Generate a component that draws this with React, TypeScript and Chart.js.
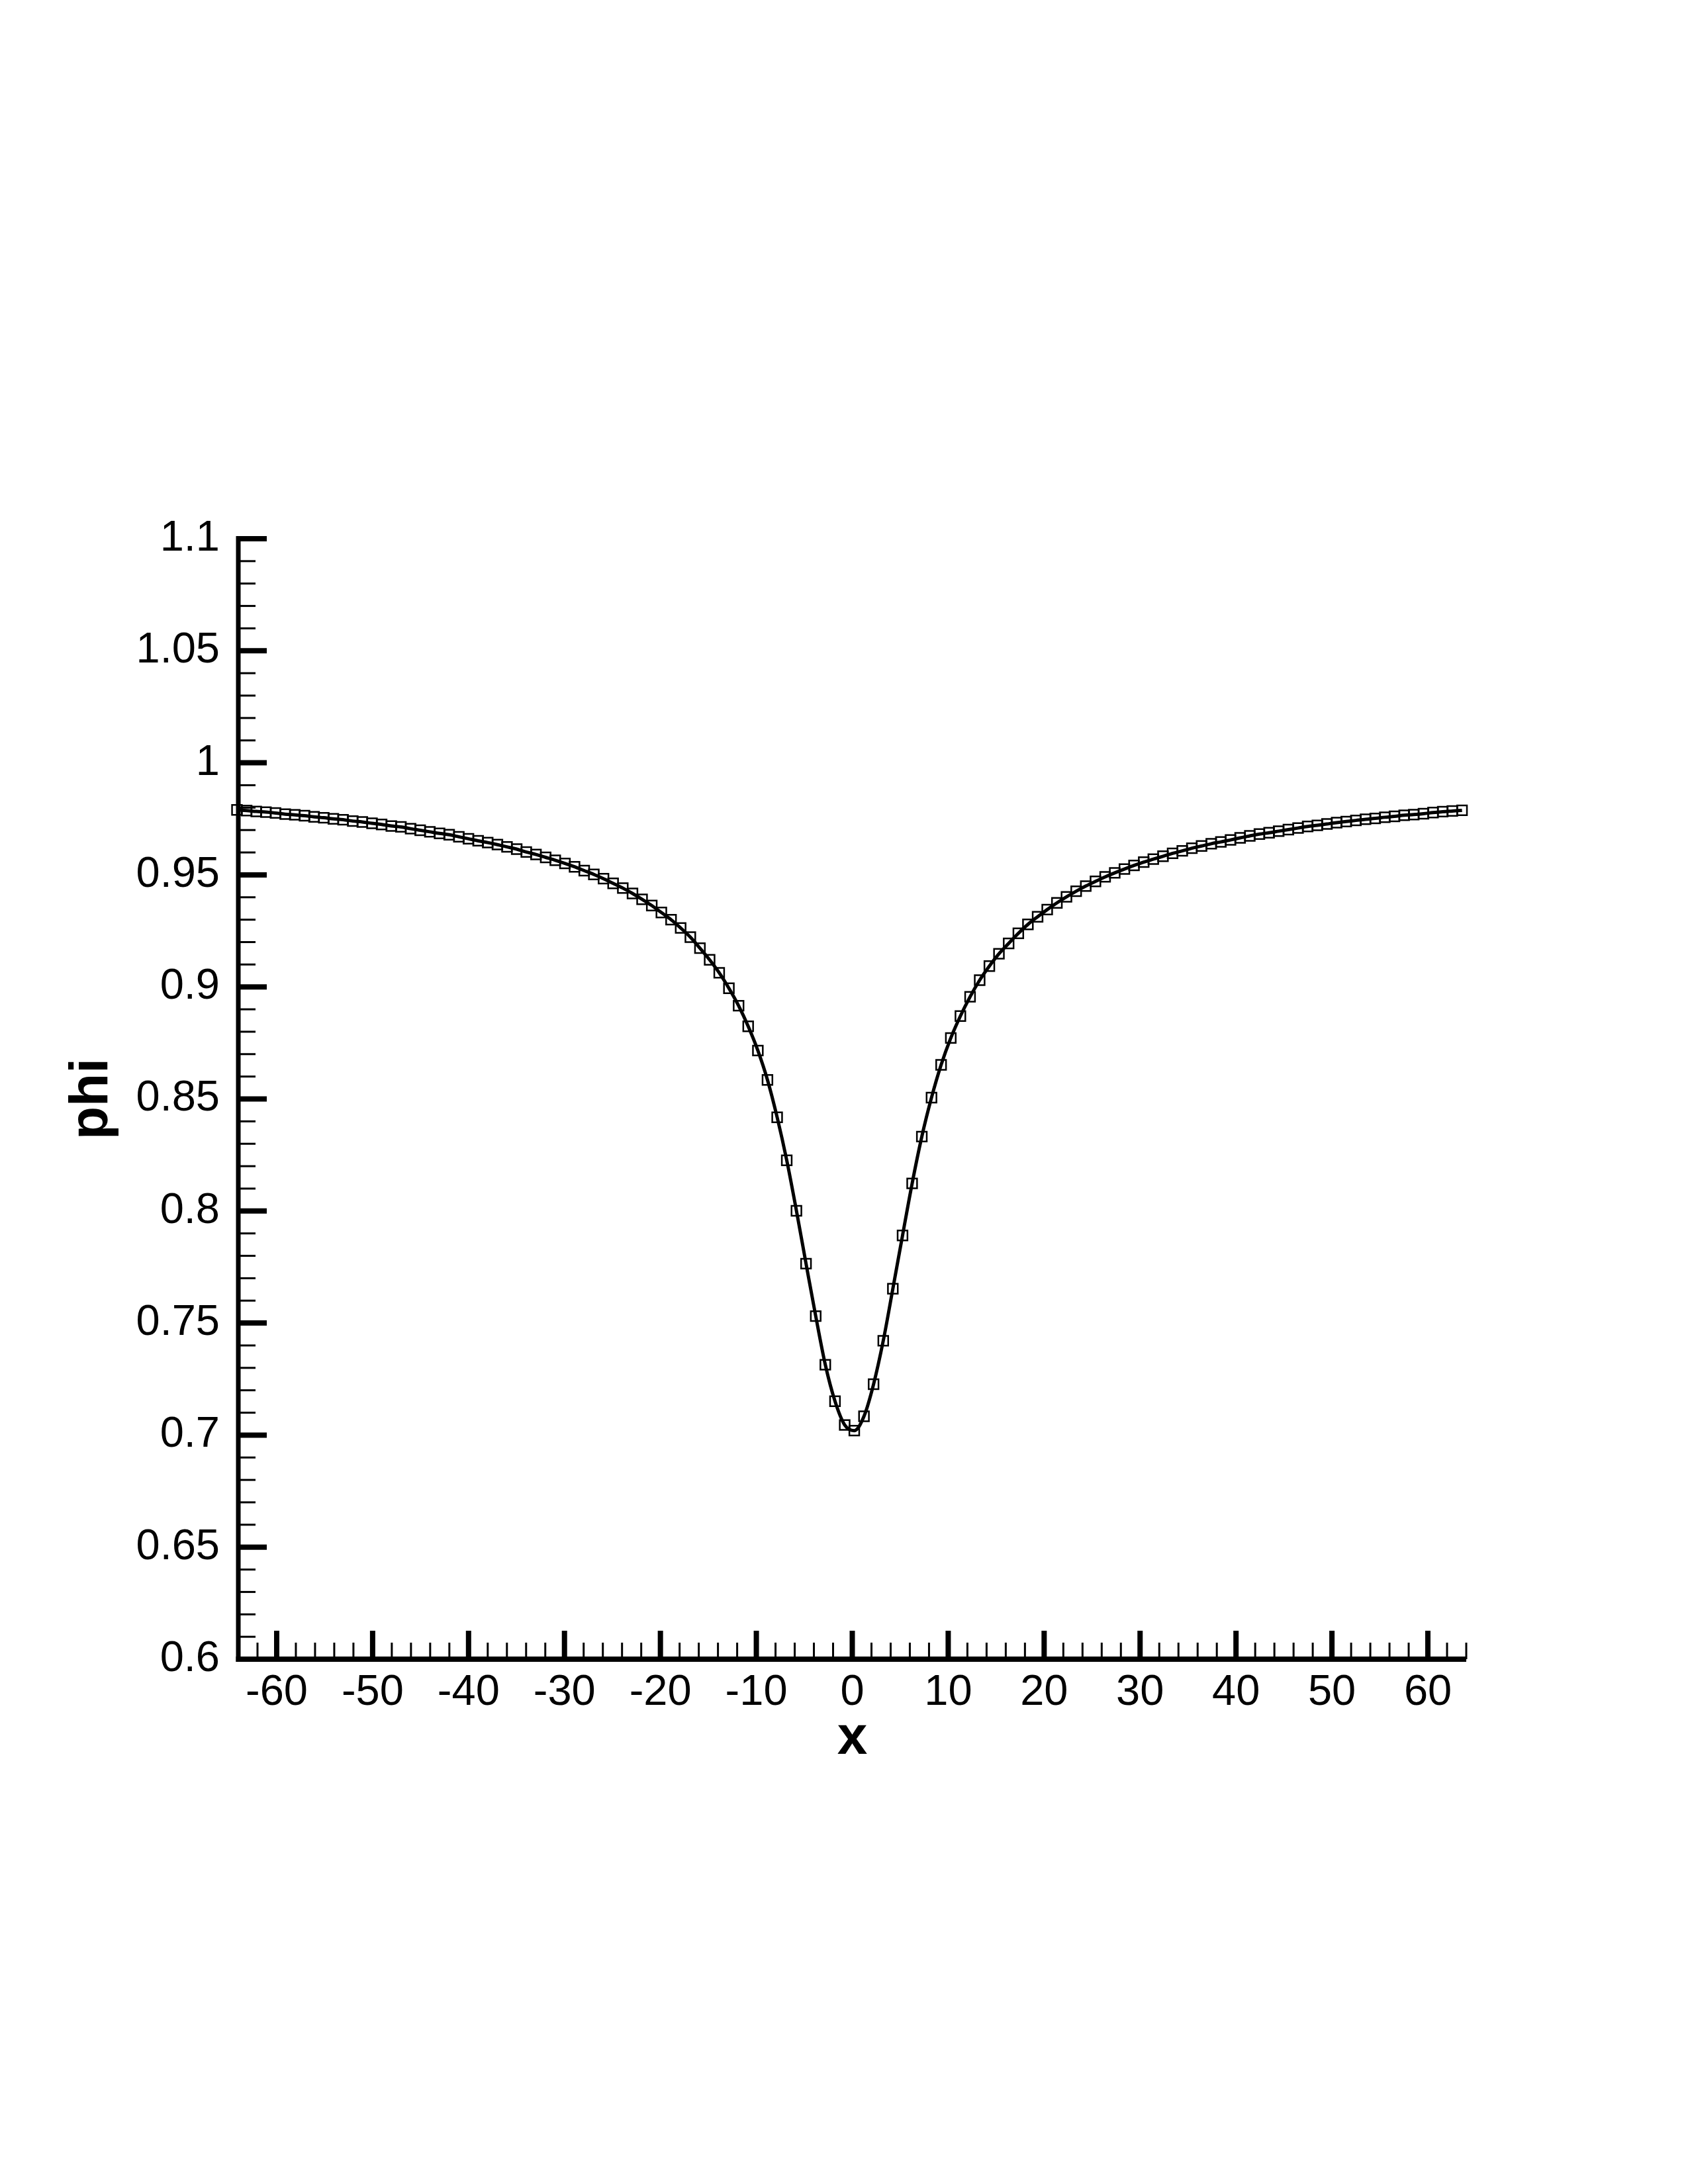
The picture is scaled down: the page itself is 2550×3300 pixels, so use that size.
import React, { useEffect, useRef } from "react";
import { Chart, registerables } from "chart.js";

Chart.register(...registerables);

// Marker positions along x
const xPositions = [
  -64.14, -63.13, -62.13, -61.12, -60.12, -59.11, -58.11, -57.10, -56.10, -55.09,
  -54.09, -53.08, -52.07, -51.07, -50.06, -49.06, -48.05, -47.05, -46.04, -45.04,
  -44.03, -43.02, -42.02, -41.01, -40.01, -39.00, -38.00, -36.99, -35.99, -34.98,
  -33.98, -32.97, -31.96, -30.96, -29.95, -28.95, -27.94, -26.94, -25.93, -24.93,
  -23.92, -22.91, -21.91, -20.90, -19.90, -18.89, -17.89, -16.88, -15.88, -14.87,
  -13.87, -12.86, -11.85, -10.85, -9.84, -8.84, -7.83, -6.83, -5.82, -4.82,
  -3.81, -2.81, -1.80, -0.79, 0.21, 1.22, 2.22, 3.23, 4.23, 5.24,
  6.24, 7.25, 8.26, 9.26, 10.27, 11.27, 12.28, 13.28, 14.29, 15.29,
  16.30, 17.31, 18.31, 19.32, 20.32, 21.33, 22.33, 23.34, 24.34, 25.35,
  26.36, 27.36, 28.37, 29.37, 30.38, 31.38, 32.39, 33.39, 34.40, 35.40,
  36.41, 37.42, 38.42, 39.43, 40.43, 41.44, 42.44, 43.45, 44.45, 45.46,
  46.47, 47.47, 48.48, 49.48, 50.49, 51.49, 52.50, 53.50, 54.51, 55.51,
  56.52, 57.53, 58.53, 59.54, 60.54, 61.55, 62.55, 63.56,
];

// phi values at those positions
const phiValues = [
  0.9790, 0.9787, 0.9783, 0.9780, 0.9776, 0.9771, 0.9768, 0.9764, 0.9759, 0.9755,
  0.9750, 0.9746, 0.9740, 0.9736, 0.9730, 0.9725, 0.9718, 0.9714, 0.9706, 0.9699,
  0.9692, 0.9685, 0.9679, 0.9670, 0.9661, 0.9652, 0.9644, 0.9635, 0.9625, 0.9615,
  0.9602, 0.9591, 0.9578, 0.9565, 0.9551, 0.9536, 0.9519, 0.9502, 0.9483, 0.9462,
  0.9441, 0.9417, 0.9391, 0.9363, 0.9332, 0.9300, 0.9263, 0.9222, 0.9173, 0.9121,
  0.9063, 0.8994, 0.8916, 0.8824, 0.8716, 0.8585, 0.8418, 0.8226, 0.8001, 0.7765,
  0.7531, 0.7314, 0.7151, 0.7045, 0.7020, 0.7084, 0.7227, 0.7421, 0.7653, 0.7891,
  0.8123, 0.8332, 0.8506, 0.8652, 0.8772, 0.8870, 0.8956, 0.9030, 0.9093, 0.9148,
  0.9194, 0.9239, 0.9279, 0.9313, 0.9345, 0.9375, 0.9402, 0.9427, 0.9450, 0.9471,
  0.9491, 0.9509, 0.9526, 0.9542, 0.9557, 0.9570, 0.9583, 0.9596, 0.9607, 0.9619,
  0.9629, 0.9639, 0.9647, 0.9656, 0.9665, 0.9674, 0.9682, 0.9688, 0.9695, 0.9702,
  0.9709, 0.9716, 0.9721, 0.9727, 0.9733, 0.9738, 0.9743, 0.9748, 0.9752, 0.9757,
  0.9761, 0.9766, 0.9769, 0.9773, 0.9778, 0.9782, 0.9785, 0.9788,
];

const xTicks = [-60, -50, -40, -30, -20, -10, 0, 10, 20, 30, 40, 50, 60];
const yTicks = [0.6, 0.65, 0.7, 0.75, 0.8, 0.85, 0.9, 0.95, 1, 1.05, 1.1];
const xMinorTicks = [
  -62, -58, -56, -54, -52, -48, -46, -44, -42, -38, -36, -34, -32, -28, -26, -24, -22,
  -18, -16, -14, -12, -8, -6, -4, -2, 2, 4, 6, 8, 12, 14, 16, 18, 22, 24, 26, 28,
  32, 34, 36, 38, 42, 44, 46, 48, 52, 54, 56, 58, 62, 64,
];
const yMinorTicks = [
  0.61, 0.62, 0.63, 0.64, 0.66, 0.67, 0.68, 0.69, 0.71, 0.72, 0.73, 0.74,
  0.76, 0.77, 0.78, 0.79, 0.81, 0.82, 0.83, 0.84, 0.86, 0.87, 0.88, 0.89,
  0.91, 0.92, 0.93, 0.94, 0.96, 0.97, 0.98, 0.99, 1.01, 1.02, 1.03, 1.04,
  1.06, 1.07, 1.08, 1.09,
];
const xTitle = "x";
const yTitle = "phi";

const FONT = '"Liberation Sans", Arial, Helvetica, sans-serif';

const axesPlugin = {
  id: "tecplotAxes",
  afterDraw(chart: any) {
    const { ctx, chartArea: a, scales } = chart;
    const xs = scales.x;
    const ys = scales.y;
    const seg = (x1: number, y1: number, x2: number, y2: number) => {
      ctx.beginPath();
      ctx.moveTo(x1, y1);
      ctx.lineTo(x2, y2);
      ctx.stroke();
    };
    ctx.save();
    ctx.strokeStyle = "#000";
    ctx.fillStyle = "#000";
    ctx.lineCap = "butt";

    // minor ticks
    ctx.lineWidth = 3;
    for (const v of yMinorTicks) {
      const py = ys.getPixelForValue(v);
      seg(a.left, py, a.left + 26, py);
    }
    for (const v of xMinorTicks) {
      const px = xs.getPixelForValue(v);
      seg(px, a.bottom, px, a.bottom - 25);
    }
    // major ticks
    ctx.lineWidth = 8;
    for (const v of yTicks) {
      const py = ys.getPixelForValue(v);
      seg(a.left, py, a.left + 43, py);
    }
    for (const v of xTicks) {
      const px = xs.getPixelForValue(v);
      seg(px, a.bottom, px, a.bottom - 43);
    }
    // axis lines
    ctx.lineWidth = 7;
    seg(a.left, a.top - 4, a.left, a.bottom + 4);
    ctx.lineWidth = 8;
    seg(a.left - 3.5, a.bottom, a.right, a.bottom);

    // axis titles
    ctx.font = `bold 82px ${FONT}`;
    ctx.textAlign = "center";
    ctx.textBaseline = "alphabetic";
    ctx.fillText(xTitle, (a.left + a.right) / 2, a.bottom + 143);
    ctx.save();
    ctx.translate(162, (a.top + a.bottom) / 2);
    ctx.rotate(-Math.PI / 2);
    ctx.fillText(yTitle, 0, 0);
    ctx.restore();

    ctx.restore();
  },
};

export default function App() {
  const ref = useRef<HTMLCanvasElement | null>(null);

  useEffect(() => {
    if (!ref.current) return;
    const points = xPositions.map((x, i) => ({ x, y: phiValues[i] }));
    const chart = new Chart(ref.current, {
      type: "line",
      data: {
        datasets: [
          {
            data: points,
            borderColor: "#000",
            borderWidth: 5,
            cubicInterpolationMode: "monotone",
            pointStyle: "rect",
            pointRadius: 10.5,
            pointBorderWidth: 2.5,
            pointBorderColor: "#000",
            pointBackgroundColor: "rgba(0,0,0,0)",
            fill: false,
            clip: false as any,
          },
        ],
      },
      options: {
        responsive: false,
        devicePixelRatio: 1,
        animation: false,
        events: [],
        layout: { padding: { left: 0, top: 814, right: 335, bottom: 0 } },
        plugins: {
          legend: { display: false },
          tooltip: { enabled: false },
          title: { display: false },
        },
        scales: {
          x: {
            type: "linear",
            min: -64,
            max: 64,
            grid: { display: false, drawTicks: false },
            border: { display: false },
            afterBuildTicks: (scale: any) => {
              scale.ticks = xTicks.map((v) => ({ value: v }));
            },
            afterFit: (scale: any) => {
              scale.height = 793;
            },
            ticks: {
              autoSkip: false,
              maxRotation: 0,
              padding: 12,
              color: "#000",
              font: { family: FONT, size: 65 },
              callback: (v: any) => String(v),
            },
          },
          y: {
            type: "linear",
            min: 0.6,
            max: 1.1,
            grid: { display: false, drawTicks: false },
            border: { display: false },
            afterBuildTicks: (scale: any) => {
              scale.ticks = yTicks.map((v) => ({ value: v }));
            },
            afterFit: (scale: any) => {
              scale.width = 360;
            },
            ticks: {
              autoSkip: false,
              padding: 28,
              color: "#000",
              font: { family: FONT, size: 65 },
              callback: (v: any) => String(v),
            },
          },
        },
      },
      plugins: [axesPlugin],
    } as any);
    return () => chart.destroy();
  }, []);

  return (
    <div style={{ position: "absolute", left: 0, top: 0, width: 2550, height: 3300, background: "#fff" }}>
      <canvas ref={ref} width={2550} height={3300} style={{ width: 2550, height: 3300, display: "block" }} />
    </div>
  );
}
